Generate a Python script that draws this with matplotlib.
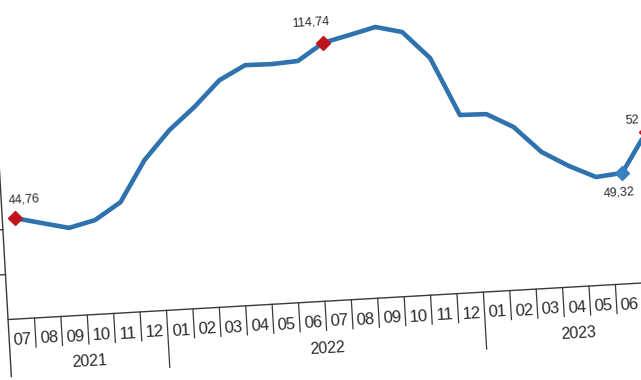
import matplotlib
matplotlib.use("Agg")
import matplotlib.pyplot as plt
from matplotlib.transforms import Affine2D

# ---------------- data ----------------
months = ["07", "08", "09", "10", "11", "12",
          "01", "02", "03", "04", "05", "06", "07", "08", "09", "10", "11", "12",
          "01", "02", "03", "04", "05", "06", "07"]
years = ["2021", "2022", "2023"]
year_counts = [6, 12, 7]
values = [44.76, 41.9, 39.1, 41.9, 49.2, 67.3, 79.9, 89.6, 100.8, 106.8, 106.6, 107.3,
          114.74, 117.5, 120.4, 117.5, 105.2, 79.2, 78.9, 72.5, 60.7, 53.8, 48.2, 49.32, 67.0]
label_idx = [0, 12, 23, 24]
label_text = ["44,76", "114,74", "49,32", "52"]
max_idx = [0, 12, 24]
min_idx = [23]
yticks = [0, 20, 40, 60, 80, 100, 120, 140]

# ---------------- layout (pixels) ----------------
W, H, DPI = 641, 380, 100
U0, DU = 21.3, 26.45        # first category centre, category width (px)
Y0, SY = 60.0, 2.25         # baseline (display px), px per unit
ANGLE = 3.3                 # picture is slightly tilted

LINE_C = "#2e72ae"
RED = "#c0141c"
BLUE = "#3a80c0"
AX_C = "#3a3a3a"
TXT_C = "#2a2a2a"

fig = plt.figure(figsize=(W / DPI, H / DPI), dpi=DPI)
ax = fig.add_axes([0, 0, 1, 1])
ax.set_axis_off()
ax.set_xlim(-U0 / DU, (W - U0) / DU)
ax.set_ylim(-Y0 / SY, (H - Y0) / SY)

rot = Affine2D().rotate_deg_around(0, Y0, ANGLE)
T = ax.transData + rot


def Toff(dx, dy):
    return ax.transData + Affine2D().translate(dx, dy) + rot


n = len(values)
x = list(range(n))

# series line
ax.plot(x, values, color=LINE_C, lw=3.3, transform=T, clip_on=False,
        solid_joinstyle="round", solid_capstyle="round", zorder=3)
# markers
ax.plot([x[i] for i in max_idx], [values[i] for i in max_idx], ls="none",
        marker="D", ms=7.5, color=RED, transform=T, clip_on=False, zorder=4)
ax.plot([x[i] for i in min_idx], [values[i] for i in min_idx], ls="none",
        marker="D", ms=7.5, color=BLUE, transform=T, clip_on=False, zorder=4)

# data labels
offs = [(10, 18.5), (-11.5, 21), (-4.5, -19), (-13, 12)]
for i, t, (dx, dy) in zip(label_idx, label_text, offs):
    ax.text(x[i], values[i], t, transform=Toff(dx, dy), rotation=ANGLE,
            rotation_mode="anchor", ha="center", va="center",
            fontsize=9, color=TXT_C, family=["Liberation Sans", "DejaVu Sans"],
            clip_on=False, zorder=5)

# axes: baseline and left spine
left = -0.5
right = n - 0.5
ax.plot([left, right + 1], [0, 0], color=AX_C, lw=1.0, transform=T, clip_on=False)
ax.plot([left, left], [-57 / SY, yticks[-1]], color=AX_C, lw=1.0, transform=T, clip_on=False)
for v in yticks[1:]:
    ax.plot([left - 5 / DU, left], [v, v], color=AX_C, lw=1.0, transform=T, clip_on=False)

# category separators
group_edges = [left]
acc = left
for c in year_counts:
    acc += c
    group_edges.append(acc)
for k in range(n):
    b = k + 0.5
    if b in group_edges:
        continue
    ax.plot([b, b], [0, -29 / SY], color=AX_C, lw=0.9, transform=T, clip_on=False)
for b in group_edges[1:]:
    ax.plot([b, b], [0, -57 / SY], color=AX_C, lw=0.9, transform=T, clip_on=False)

narrow = ["Liberation Sans Narrow", "Liberation Sans", "DejaVu Sans"]
# month labels (only those whose cell lies inside the picture)
for k, m in enumerate(months):
    px = T.transform((k, -21 / SY))[0]
    if px + 6 > W:
        continue
    ax.text(k, -21 / SY, m, transform=T, rotation=ANGLE, rotation_mode="anchor",
            ha="center", va="center", fontsize=12, color=TXT_C, family=narrow,
            clip_on=False)
# year labels
start = 0
for yname, c in zip(years, year_counts):
    centre = start + (c - 1) / 2
    ax.text(centre, -47 / SY, yname, transform=T, rotation=ANGLE, rotation_mode="anchor",
            ha="center", va="center", fontsize=11.5, color=TXT_C, family=narrow,
            clip_on=False)
    start += c

fig.savefig("out.png", dpi=DPI, facecolor="white")
